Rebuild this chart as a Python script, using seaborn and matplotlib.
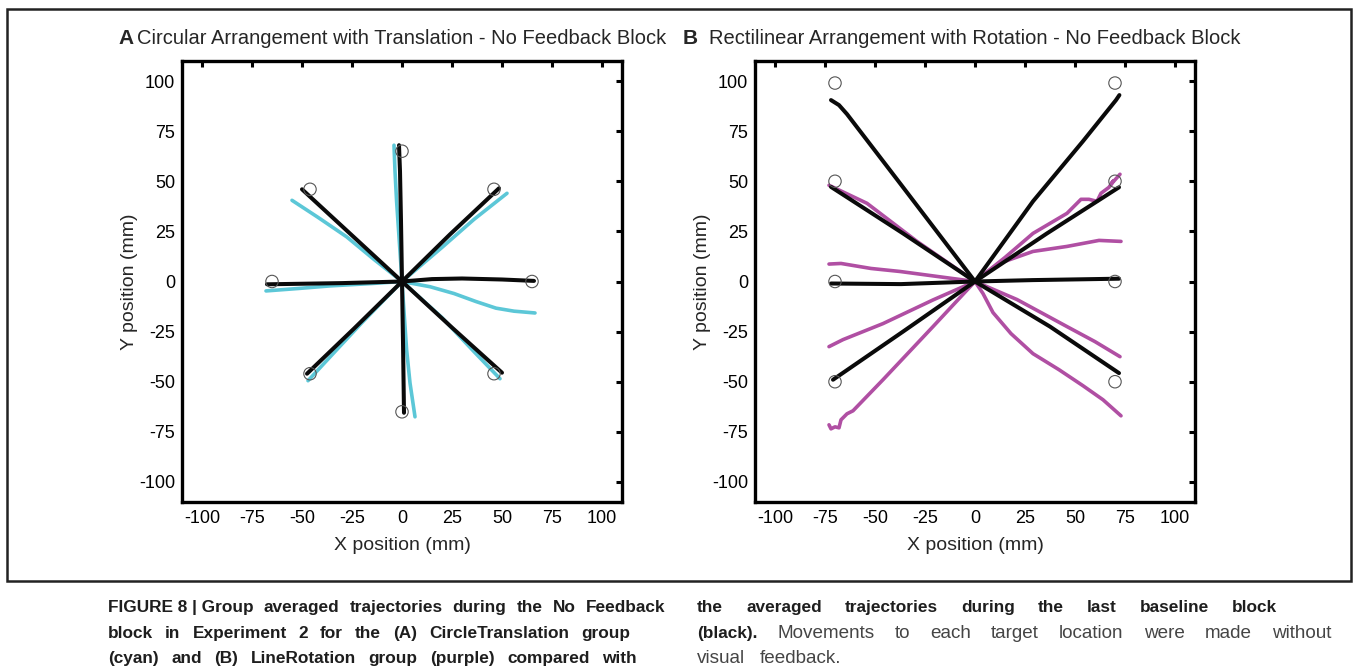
import matplotlib
matplotlib.use("Agg")
import numpy as np
import pandas as pd
import matplotlib.pyplot as plt
import seaborn as sns
from matplotlib import font_manager
from matplotlib.patches import Rectangle

# ---------------- data (mm) ----------------
# Panel A: circular target arrangement
A_TARGETS_X = [0, 46, 65, 46, 0, -46, -65, -46]
A_TARGETS_Y = [65, 46, 0, -46, -65, -46, 0, 46]

# baseline (black) trajectories, panel A
A_BASE_N = [(0, 0), (-0.5, 30), (-1, 55), (-1.5, 68)]
A_BASE_NE = [(0, 0), (24, 23.5), (48.5, 46.5)]
A_BASE_E = [(0, 0), (15, 1.2), (30, 1.5), (50, 1), (66, 0.3)]
A_BASE_SE = [(0, 0), (25, -23), (50, -45.5)]
A_BASE_S = [(0, 0), (0.5, -30), (1, -65.5)]
A_BASE_SW = [(0, 0), (-24, -23.5), (-47.5, -46)]
A_BASE_W = [(0, 0), (-30, -0.8), (-67.5, -1.4)]
A_BASE_NW = [(0, 0), (-25, 23), (-50, 46)]

# no-feedback (cyan) trajectories, CircleTranslation group
A_NOFB_N = [(0, 0), (-1, 15), (-2.7, 40), (-3.5, 55), (-4, 68)]
A_NOFB_NE = [(0, 0), (20, 17), (36, 31), (52.5, 44)]
A_NOFB_E = [(0, 0), (14, -2.6), (26, -6), (37, -10), (47, -13.3), (56, -14.8), (66.5, -15.7)]
A_NOFB_SE = [(0, 0), (20, -18), (36, -35), (49, -48.5)]
A_NOFB_S = [(0, 0), (1, -15), (2.3, -34), (4, -50.6), (6.5, -67.5)]
A_NOFB_SW = [(0, 0), (-20, -20.5), (-34, -35.5), (-47, -49.5)]
A_NOFB_W = [(0, 0), (-15, -1), (-36, -2.2), (-52, -3.5), (-68, -4.7)]
A_NOFB_NW = [(0, 0), (-14, 11), (-27.7, 22.3), (-42, 32), (-55, 40.5)]

# Panel B: rectilinear target arrangement
B_TARGETS_X = [-70, 70, -70, 70, -70, 70, -70, 70]
B_TARGETS_Y = [99, 99, 50, 50, 0, 0, -50, -50]

# baseline (black) trajectories, panel B
B_BASE_UL = [(0, 0), (-37.5, 49), (-64, 83.5), (-68, 88), (-72, 90.5)]
B_BASE_UR = [(0, 0), (29, 40), (54, 70), (70.5, 90.5), (72.2, 93)]
B_BASE_ML = [(0, 0), (-36, 24), (-72, 47.2)]
B_BASE_MR = [(0, 0), (36, 24), (72, 47)]
B_BASE_L = [(0, 0), (-37, -1.3), (-72, -1)]
B_BASE_R = [(0, 0), (29, 0.7), (72, 1.4)]
B_BASE_LL = [(0, 0), (-36, -25), (-71, -49)]
B_BASE_LR = [(0, 0), (37.5, -22.5), (72, -45.7)]

# no-feedback (purple) trajectories, LineRotation group
B_NOFB_1 = [(0, 0), (-29, 20), (-54, 39), (-73, 48)]
B_NOFB_2 = [(0, 0), (15, 12), (29, 24), (46, 34), (53, 41), (57, 41), (61, 40),
            (63, 44), (67, 47), (69, 50), (68, 48.5), (72.5, 53.5)]
B_NOFB_3 = [(0, 0), (12, 9), (29, 15), (46, 17.5), (62, 20.5), (73, 20)]
B_NOFB_4 = [(0, 0), (-15, 2), (-37.5, 5), (-52, 6.5), (-67, 9), (-73, 8.7)]
B_NOFB_5 = [(0, 0), (-21, -9.2), (-46, -21), (-66, -29), (-69, -30.5), (-73, -32.5)]
B_NOFB_6 = [(0, 0), (-21, -22.5), (-46, -49), (-61, -64.5), (-64, -66), (-67, -69),
            (-68, -73), (-70, -72.5), (-72, -73.5), (-73, -71.5)]
B_NOFB_7 = [(0, 0), (21, -9), (46, -22.5), (60, -30), (72.5, -37.5)]
B_NOFB_8 = [(0, 0), (4, -6), (9, -15.5), (18, -26), (29, -36), (42, -44),
            (54, -52), (64, -59), (73, -67)]

A_BASE = [A_BASE_N, A_BASE_NE, A_BASE_E, A_BASE_SE, A_BASE_S, A_BASE_SW, A_BASE_W, A_BASE_NW]
A_NOFB = [A_NOFB_N, A_NOFB_NE, A_NOFB_E, A_NOFB_SE, A_NOFB_S, A_NOFB_SW, A_NOFB_W, A_NOFB_NW]
B_BASE = [B_BASE_UL, B_BASE_UR, B_BASE_ML, B_BASE_MR, B_BASE_L, B_BASE_R, B_BASE_LL, B_BASE_LR]
B_NOFB = [B_NOFB_1, B_NOFB_2, B_NOFB_3, B_NOFB_4, B_NOFB_5, B_NOFB_6, B_NOFB_7, B_NOFB_8]

TICKS = [-100, -75, -50, -25, 0, 25, 50, 75, 100]
TITLE_A = "Circular Arrangement with Translation - No Feedback Block"
TITLE_B = "Rectilinear Arrangement with Rotation - No Feedback Block"

CYAN = "#5cc7d7"
PURPLE = "#b04fa3"
BLACK = "#0a0a0a"

# ---------------- style ----------------
sns.set_theme(style="white")
available = {f.name for f in font_manager.fontManager.ttflist}
SANS = "Liberation Sans"
NARROW = "Liberation Sans Narrow" if "Liberation Sans Narrow" in available else SANS
plt.rcParams["font.family"] = [SANS, "DejaVu Sans"]

W, H = 1355, 670
fig = plt.figure(figsize=(W / 100, H / 100), dpi=100)


def to_frame(trajs, group):
    rows = []
    for k, pts in enumerate(trajs):
        for i, (x, y) in enumerate(pts):
            rows.append({"traj": f"{group}{k}", "step": i, "x": x, "y": y, "group": group})
    return pd.DataFrame(rows)


def panel(rect, base, nofb, color, tx, ty, title):
    ax = fig.add_axes(rect)
    df = pd.concat([to_frame(base, "base"), to_frame(nofb, "nofb")], ignore_index=True)
    sns.lineplot(data=df[df.group == "nofb"], x="x", y="y", units="traj", estimator=None,
                 sort=False, color=color, lw=2.6, ax=ax, zorder=2)
    sns.lineplot(data=df[df.group == "base"], x="x", y="y", units="traj", estimator=None,
                 sort=False, color=BLACK, lw=2.9, ax=ax, zorder=3)
    sns.scatterplot(x=tx, y=ty, ax=ax, s=80, facecolor="none", edgecolor="#555555",
                    linewidth=0.8, zorder=4)
    ax.set_xlim(-110, 110)
    ax.set_ylim(-110, 110)
    ax.set_xticks(TICKS)
    ax.set_yticks(TICKS)
    ax.set_xticklabels([str(t) for t in TICKS])
    ax.set_yticklabels([str(t) for t in TICKS])
    ax.tick_params(direction="in", top=True, right=True, length=4, width=2.2,
                   labelsize=13, pad=5, colors="black")
    ax.tick_params(axis="x", pad=6)
    for sp in ax.spines.values():
        sp.set_visible(True)
        sp.set_linewidth(2.4)
        sp.set_color("black")
    ax.set_xlabel("X position (mm)", fontsize=14, labelpad=7)
    ax.set_ylabel("Y position (mm)", fontsize=14, labelpad=1)
    ax.grid(False)
    ax.set_facecolor("white")
    ax.text(0.5, 1.0 + 23 / 441, title, transform=ax.transAxes, ha="center", va="center",
            fontsize=14.5)
    return ax


axA = panel([182 / W, (H - 502) / H, 440 / W, 441 / H], A_BASE, A_NOFB, CYAN,
            A_TARGETS_X, A_TARGETS_Y, TITLE_A)
axB = panel([755 / W, (H - 502) / H, 440 / W, 441 / H], B_BASE, B_NOFB, PURPLE,
            B_TARGETS_X, B_TARGETS_Y, TITLE_B)

# panel letters
fig.text(118 / W, 1 - 38 / H, "A", fontsize=15, fontweight="bold", ha="left", va="center")
fig.text(683 / W, 1 - 38 / H, "B", fontsize=15, fontweight="bold", ha="left", va="center")

# outer frame around the figure panels
fig.add_artist(Rectangle((7 / W, 1 - 581 / H), (1351 - 7) / W, (581 - 9) / H,
                         transform=fig.transFigure, fill=False, lw=1.8,
                         edgecolor="#222222"))

# ---------------- caption (justified lines, baseline y in px) ----------------
CAPTION = [
    (108, 665, 612, [("FIGURE 8 | Group", "bold"), ("averaged", "bold"), ("trajectories", "bold"),
                     ("during", "bold"), ("the", "bold"), ("No", "bold"), ("Feedback", "bold")]),
    (108, 630, 638, [(w, "bold") for w in "block in Experiment 2 for the (A) CircleTranslation group".split()]),
    (108, 637, 663, [(w, "bold") for w in "(cyan) and (B) LineRotation group (purple) compared with".split()]),
    (697, 1277, 612, [(w, "bold") for w in "the averaged trajectories during the last baseline block".split()]),
    (697, 1331, 638, [("(black).", "bold")] + [(w, "normal") for w in
                      "Movements to each target location were made without".split()]),
    (697, 841, 663, [(w, "normal") for w in "visual feedback.".split()]),
]

renderer = fig.canvas.get_renderer()
for x0, x1, y, words in CAPTION:
    texts = []
    for w, weight in words:
        bold = weight == "bold"
        t = fig.text(0, 1 - y / H, w, fontsize=12.4 if bold else 13.6, fontweight=weight,
                     family=[NARROW, "DejaVu Sans"],
                     color="#1e1e1e" if bold else "#454545",
                     ha="left", va="baseline")
        texts.append(t)
    widths = [t.get_window_extent(renderer).width for t in texts]
    gap = (x1 - x0 - sum(widths)) / max(len(texts) - 1, 1)
    x = x0
    for t, wd in zip(texts, widths):
        t.set_x(x / W)
        x += wd + gap

fig.savefig("out.png", dpi=100, facecolor="white")
